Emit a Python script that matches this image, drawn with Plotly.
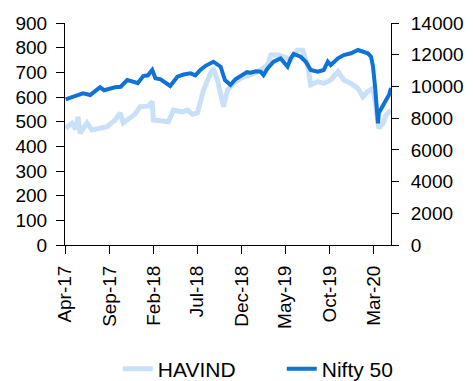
import plotly.graph_objects as go

havind_dates = ["2017-04-03","2017-04-25","2017-05-08","2017-05-16","2017-05-23","2017-06-16","2017-07-03",
    "2017-07-31","2017-08-24","2017-09-21","2017-10-08","2017-10-19","2017-11-12","2017-11-28","2017-12-17",
    "2018-01-13","2018-01-27","2018-01-31","2018-02-24","2018-03-24","2018-04-10","2018-05-10","2018-05-28",
    "2018-06-15","2018-07-02","2018-07-12","2018-07-23","2018-08-16","2018-08-26","2018-09-09","2018-09-25",
    "2018-09-30","2018-10-14","2018-11-04","2018-12-08","2019-01-01","2019-02-05","2019-03-01","2019-03-12",
    "2019-04-05","2019-04-26","2019-05-20","2019-06-13","2019-06-30","2019-07-18","2019-07-28","2019-08-21",
    "2019-09-11","2019-10-05","2019-10-30","2019-11-19","2019-12-14","2020-01-07","2020-01-24","2020-02-10",
    "2020-02-28","2020-03-09","2020-03-19","2020-04-02","2020-04-13","2020-04-30"]
havind_values = [473,493,470,520,453,495,466,
    474,480,507,535,495,515,530,561,
    563,581,507,504,500,547,540,547,
    530,535,588,628,696,716,669,588,
    561,628,657,682,690,709,730,770,
    770,763,750,790,790,723,649,662,
    655,669,703,669,655,635,601,622,
    635,561,473,493,527,547]

nifty_dates = ["2017-04-03","2017-04-25","2017-05-15","2017-06-02","2017-06-27","2017-07-14","2017-07-31",
    "2017-08-14","2017-09-04","2017-09-21","2017-10-10","2017-11-02","2017-11-22","2017-12-08","2017-12-27",
    "2018-01-12","2018-01-27","2018-02-07","2018-02-25","2018-03-20","2018-03-30","2018-04-24","2018-05-15",
    "2018-06-08","2018-06-25","2018-07-12","2018-07-30","2018-08-26","2018-09-20","2018-10-05","2018-10-24",
    "2018-11-10","2018-11-28","2018-12-08","2018-12-20","2019-01-01","2019-01-20","2019-02-05","2019-02-15",
    "2019-03-01","2019-03-22","2019-04-15","2019-05-09","2019-05-20","2019-05-30","2019-06-23","2019-07-11",
    "2019-07-28","2019-08-21","2019-09-11","2019-09-25","2019-10-05","2019-10-30","2019-11-19","2019-12-14",
    "2020-01-07","2020-01-28","2020-02-10","2020-02-21","2020-02-28","2020-03-06","2020-03-13","2020-03-16",
    "2020-03-19","2020-04-02","2020-04-13","2020-04-23","2020-04-30"]
nifty_values = [9188,9300,9450,9566,9459,9700,9945,
    9760,9882,9945,9980,10405,10298,10200,10657,
    10700,11036,10512,10450,10197,10027,10613,10750,
    10828,10700,11036,11300,11559,11244,10400,10090,
    10450,10657,10720,10900,10866,10950,10930,10720,
    11140,11560,11770,11245,11770,12045,11875,11560,
    11036,10930,11036,11560,11350,11770,11980,12090,
    12297,12190,12090,11875,11245,9985,8722,7675,
    8324,8722,9144,9459,9900]

tick_dates = ["2017-04-01","2017-09-01","2018-02-01","2018-07-01","2018-12-01","2019-05-01","2019-10-01","2020-03-01"]
tick_labels = ["Apr-17","Sep-17","Feb-18","Jul-18","Dec-18","May-19","Oct-19","Mar-20"]

fig = go.Figure()
fig.add_trace(go.Scatter(x=havind_dates, y=havind_values, name="HAVIND", mode="lines",
                         line=dict(color="#C8E0F8", width=5), yaxis="y"))
fig.add_trace(go.Scatter(x=nifty_dates, y=nifty_values, name="Nifty 50", mode="lines",
                         line=dict(color="#0E72D6", width=4), yaxis="y2"))

font = "Arial, Liberation Sans, sans-serif"
fig.update_layout(
    width=473, height=381,
    margin=dict(l=65, r=82, t=23, b=136, autoexpand=False),
    paper_bgcolor="white", plot_bgcolor="white",
    font=dict(family=font, size=19, color="black"),
    showlegend=True,
    legend=dict(orientation="h", xref="paper", x=1.168, xanchor="right", yref="paper",
                y=-0.5586, yanchor="middle", font=dict(size=21, family=font),
                entrywidth=119, entrywidthmode="pixels", traceorder="normal",
                bgcolor="rgba(0,0,0,0)"),
    xaxis=dict(type="date", range=["2017-04-01", "2020-04-30"], tickvals=tick_dates, ticktext=tick_labels,
               tickangle=-90, ticks="outside", ticklen=8, tickcolor="black", showline=True,
               linecolor="black", linewidth=1, showgrid=False, zeroline=False,
               tickfont=dict(size=19), ticklabelstandoff=4),
    yaxis=dict(range=[0, 900], dtick=100, ticks="outside", ticklen=8, tickcolor="black",
               showline=True, linecolor="black", linewidth=1, showgrid=False, zeroline=False,
               tickfont=dict(size=19), ticklabelstandoff=5),
    yaxis2=dict(range=[0, 14000], dtick=2000, overlaying="y", side="right", ticks="outside",
                ticklen=7, tickcolor="black", showline=True, linecolor="black", linewidth=1,
                showgrid=False, zeroline=False, tickfont=dict(size=19), tickformat="d",
                ticklabelstandoff=8),
)

fig.write_html("out.html", config={"displayModeBar": False},
               post_script="document.body.style.margin='0px';")
